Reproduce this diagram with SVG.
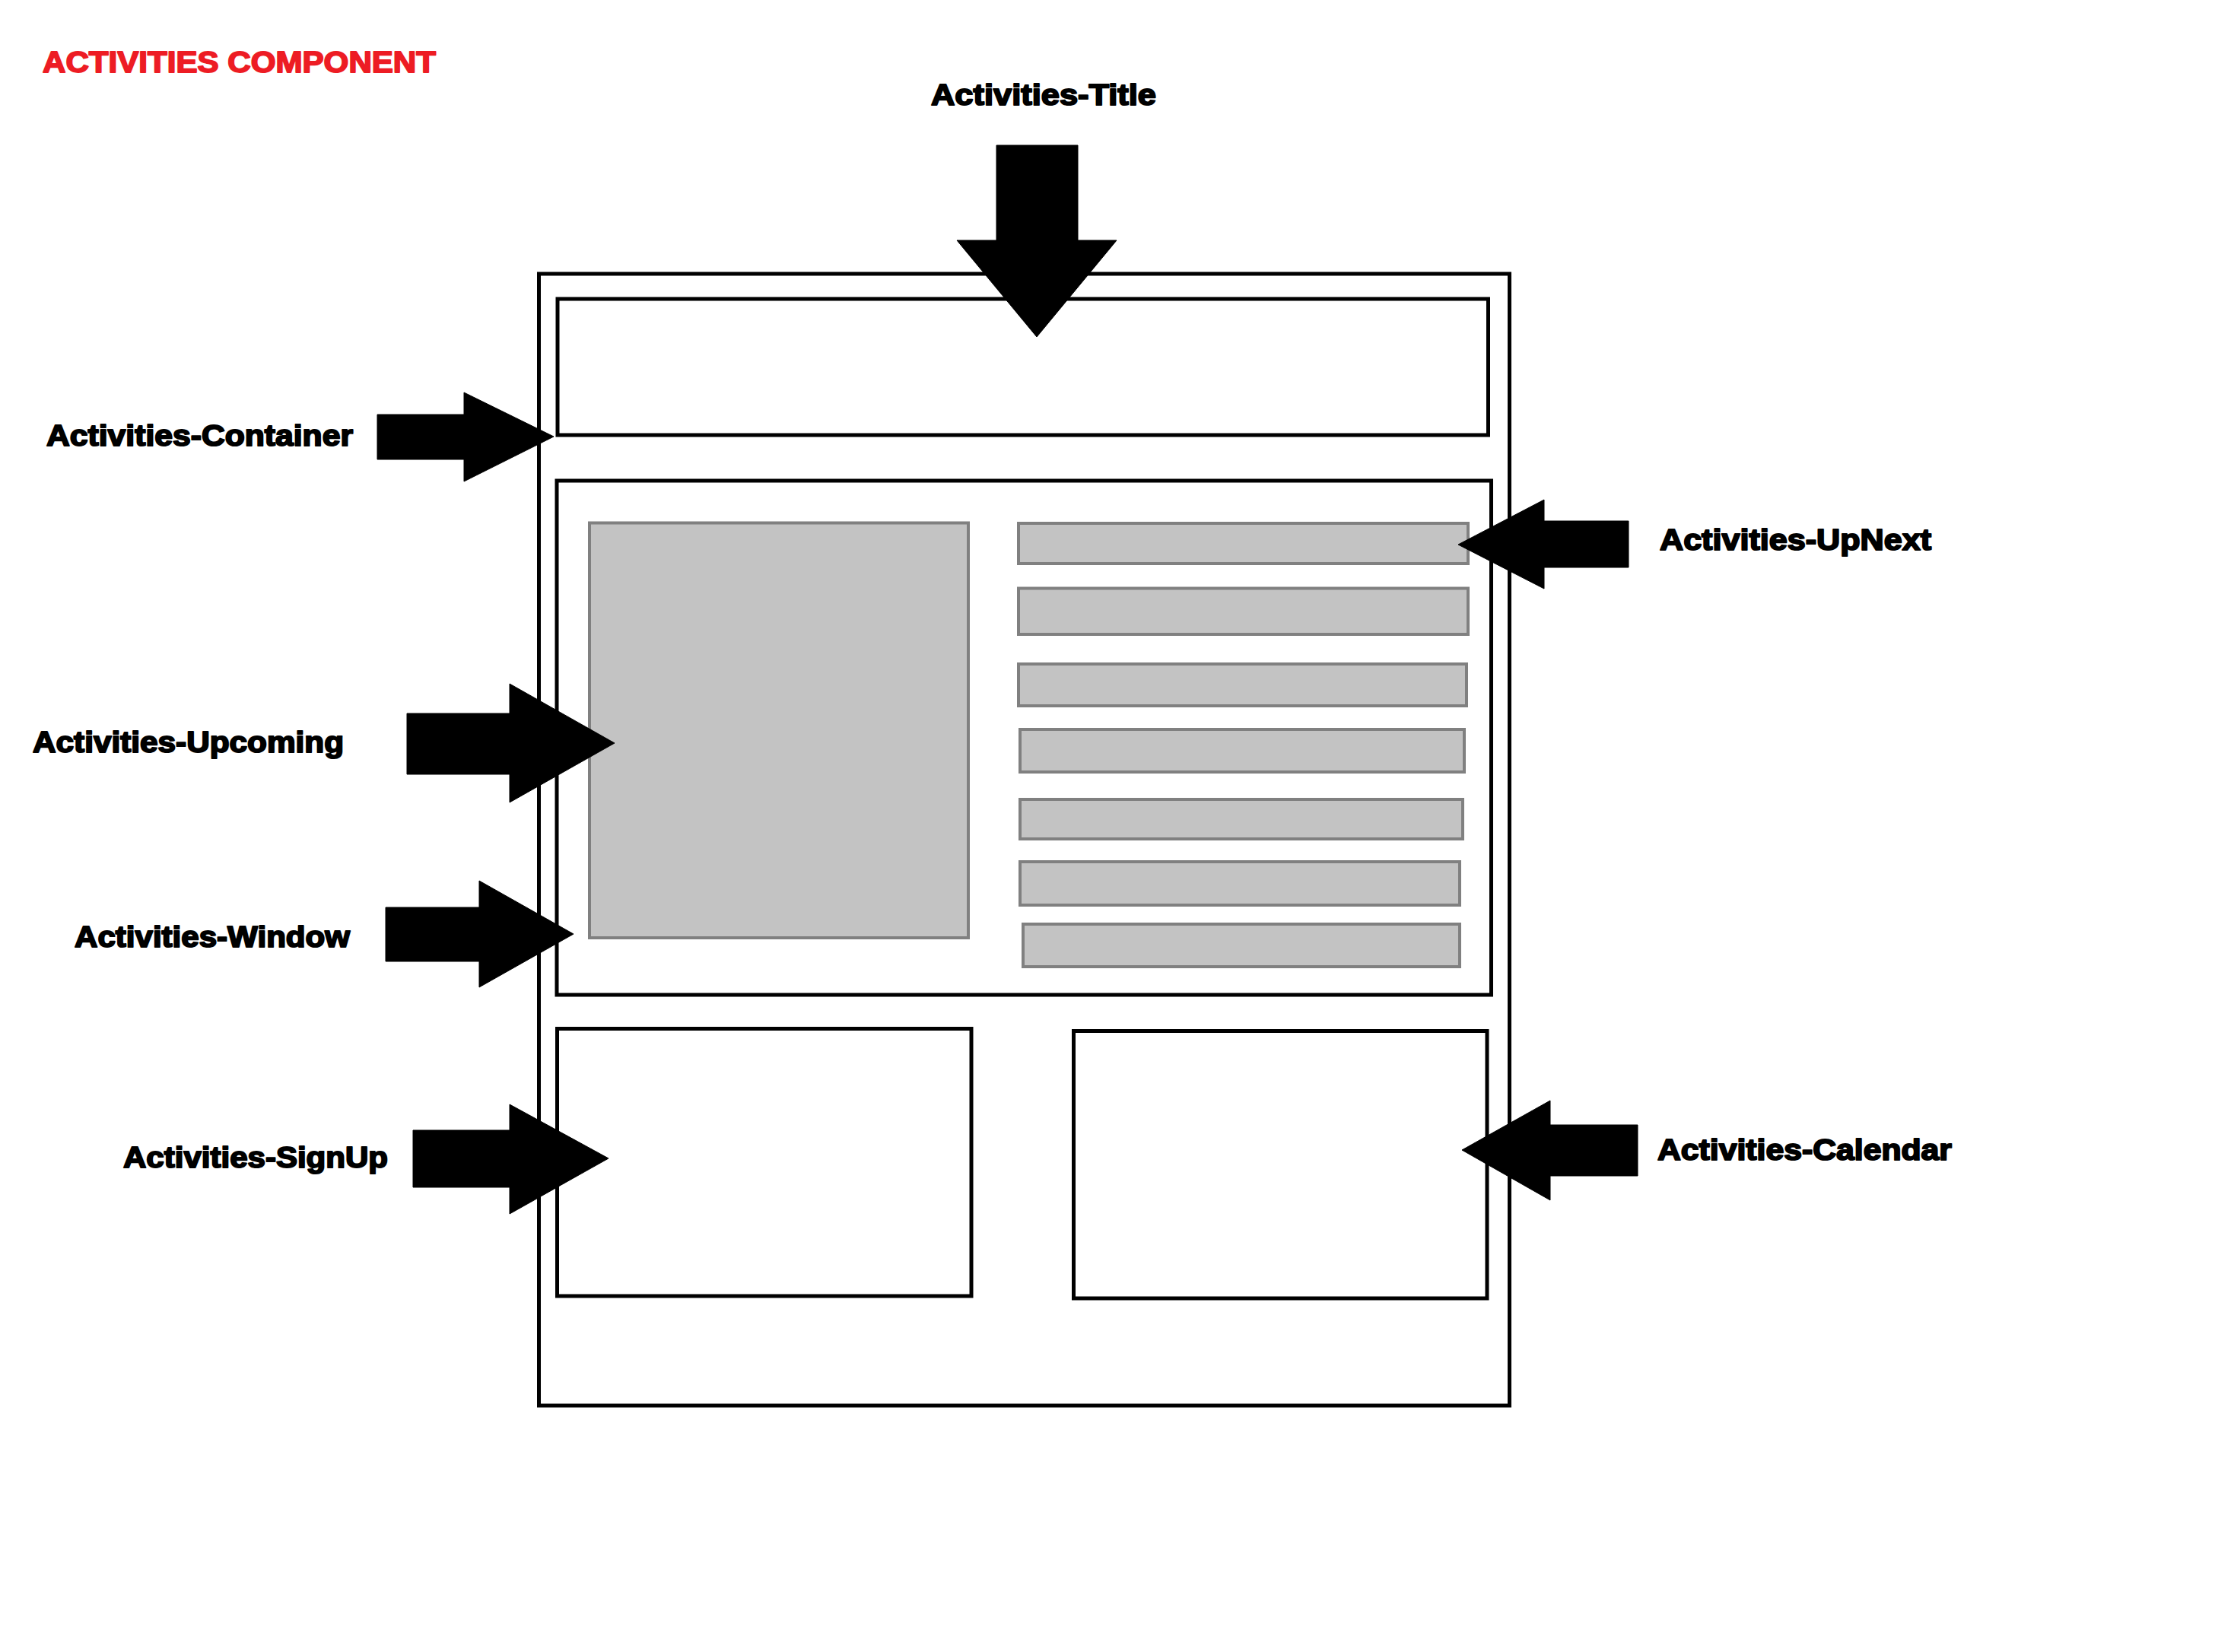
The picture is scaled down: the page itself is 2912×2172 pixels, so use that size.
<svg xmlns="http://www.w3.org/2000/svg" width="2912" height="2172" viewBox="0 0 2912 2172">
<style>
.frame{fill:none;stroke:#000;stroke-width:5}
.gray{fill:#c3c3c3;stroke:#808080;stroke-width:4}
.arrow{fill:#000;stroke:#000;stroke-width:1;stroke-linejoin:round}
.lbl{font-family:"Liberation Sans",Arial,sans-serif;font-weight:bold;font-size:39px;fill:#000;stroke:#000;stroke-width:2;stroke-linejoin:round}
.head{font-family:"Liberation Sans",Arial,sans-serif;font-weight:bold;font-size:38px;fill:#ed1c24;stroke:#ed1c24;stroke-width:1.8;stroke-linejoin:round}
</style>
<rect width="2912" height="2172" fill="#fff"/>
<text class="head" x="56" y="95" textLength="517" lengthAdjust="spacingAndGlyphs">ACTIVITIES COMPONENT</text>
<g id="activities-container">
<rect class="frame" x="708.5" y="360" width="1276" height="1488"/>
</g>
<g id="activities-title">
<rect class="frame" x="733" y="393" width="1223.5" height="179"/>
</g>
<g id="activities-window">
<rect class="frame" x="732" y="632" width="1228.5" height="676"/>
</g>
<g id="activities-upcoming">
<rect class="gray" x="775" y="687.5" width="498" height="545.5"/>
</g>
<g id="activities-upnext">
<rect class="gray" x="1339" y="688" width="591" height="53"/>
<rect class="gray" x="1339" y="773.5" width="591" height="60.5"/>
<rect class="gray" x="1339" y="873" width="589" height="55"/>
<rect class="gray" x="1341" y="959" width="584" height="56"/>
<rect class="gray" x="1341" y="1051" width="582" height="52"/>
<rect class="gray" x="1341" y="1133" width="578" height="57"/>
<rect class="gray" x="1345" y="1215" width="574" height="56"/>
</g>
<g id="activities-signup">
<rect class="frame" x="732.5" y="1352.5" width="544.5" height="351.5"/>
</g>
<g id="activities-calendar">
<rect class="frame" x="1411.5" y="1355.5" width="543.5" height="351.5"/>
</g>
<g id="connectors">
<polygon class="arrow" points="1310,191 1417,191 1417,316 1468,316 1363,443 1258,316 1310,316"/>
<polygon class="arrow" points="496,545 610,545 610,516 728,574 610,633 610,604 496,604"/>
<polygon class="arrow" points="2141,685 2030,685 2030,657 1917,716 2030,774 2030,746 2141,746"/>
<polygon class="arrow" points="535,938 670,938 670,899 808,977 670,1055 670,1018 535,1018"/>
<polygon class="arrow" points="507,1193 630,1193 630,1158 754,1228 630,1298 630,1264 507,1264"/>
<polygon class="arrow" points="543,1486 670,1486 670,1452 800,1523 670,1596 670,1561 543,1561"/>
<polygon class="arrow" points="2153,1479 2038,1479 2038,1447 1922,1512 2038,1578 2038,1546 2153,1546"/>
</g>
<g id="labels">
<text class="lbl" x="1224" y="138" textLength="296" lengthAdjust="spacingAndGlyphs">Activities-Title</text>
<text class="lbl" x="61" y="586" textLength="403" lengthAdjust="spacingAndGlyphs">Activities-Container</text>
<text class="lbl" x="2182" y="723" textLength="357" lengthAdjust="spacingAndGlyphs">Activities-UpNext</text>
<text class="lbl" x="43" y="989" textLength="409" lengthAdjust="spacingAndGlyphs">Activities-Upcoming</text>
<text class="lbl" x="98" y="1245" textLength="362" lengthAdjust="spacingAndGlyphs">Activities-Window</text>
<text class="lbl" x="162" y="1535" textLength="348" lengthAdjust="spacingAndGlyphs">Activities-SignUp</text>
<text class="lbl" x="2179" y="1525" textLength="387" lengthAdjust="spacingAndGlyphs">Activities-Calendar</text>
</g>
</svg>
